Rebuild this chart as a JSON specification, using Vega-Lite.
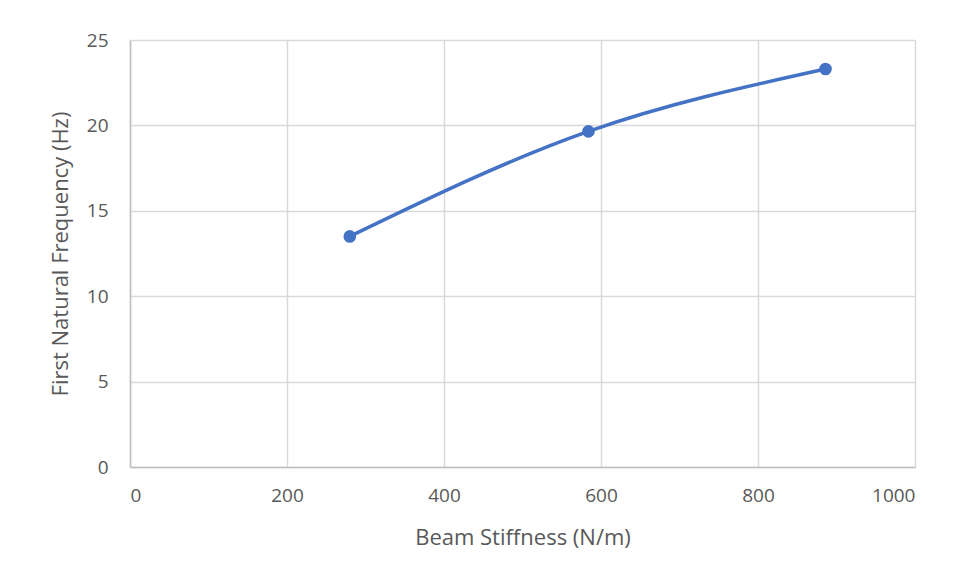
{
  "$schema": "https://vega.github.io/schema/vega-lite/v6.json",
  "autosize": "none",
  "width": 785,
  "height": 427,
  "padding": {"left": 130, "top": 40, "right": 44, "bottom": 116},
  "background": "white",
  "config": {
    "font": "Open Sans",
    "view": {"stroke": null},
    "axis": {
      "labelColor": "#595959",
      "titleColor": "#595959",
      "labelFontSize": 19,
      "titleFontSize": 22,
      "titleFontWeight": "normal",
      "gridColor": "#d9d9d9",
      "gridWidth": 1.5,
      "domainColor": "#bfbfbf",
      "domainWidth": 1.5,
      "ticks": false
    }
  },
  "data": {
    "values": [
      {"stiffness": 280, "freq": 13.5},
      {"stiffness": 584, "freq": 19.65},
      {"stiffness": 886, "freq": 23.3}
    ]
  },
  "layer": [
    {
      "mark": {"type": "line", "interpolate": "monotone", "color": "#4472C4", "strokeWidth": 3.5},
      "encoding": {
        "x": {"field": "stiffness", "type": "quantitative", "scale": {"domain": [0, 1000], "nice": false},
          "axis": {"title": "Beam Stiffness (N/m)", "values": [0, 200, 400, 600, 800, 1000], "format": "d", "labelPadding": 19, "titlePadding": 22}},
        "y": {"field": "freq", "type": "quantitative", "scale": {"domain": [0, 25], "nice": false},
          "axis": {"title": "First Natural Frequency (Hz)", "values": [0, 5, 10, 15, 20, 25], "format": "d", "labelPadding": 22, "titlePadding": 14}}
      }
    },
    {
      "mark": {"type": "point", "filled": true, "opacity": 1, "color": "#4472C4", "size": 160},
      "encoding": {
        "x": {"field": "stiffness", "type": "quantitative"},
        "y": {"field": "freq", "type": "quantitative"}
      }
    }
  ]
}
